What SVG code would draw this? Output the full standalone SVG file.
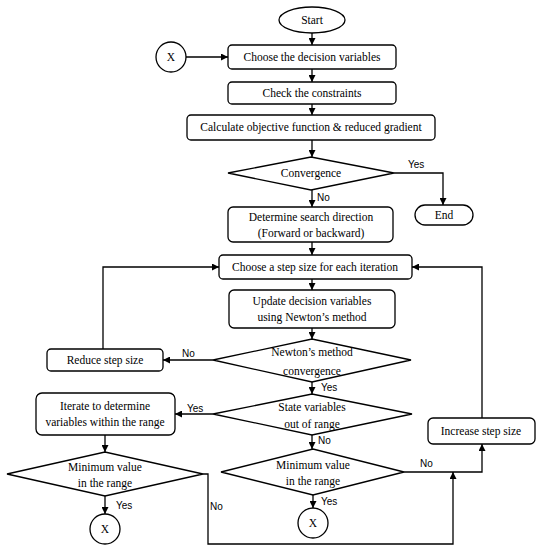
<svg xmlns="http://www.w3.org/2000/svg" width="541" height="550" viewBox="0 0 541 550">
<defs>
<marker id="ah" viewBox="0 0 10 10" refX="10" refY="5" markerWidth="7" markerHeight="7" markerUnits="userSpaceOnUse" orient="auto">
<path d="M0,0 L10,5 L0,10 z" fill="#000"/>
</marker>
<style>
.n{fill:#fff;stroke:#000;stroke-width:1.3}
.t{font-family:"Liberation Serif","DejaVu Serif",serif;font-size:11.5px;fill:#000;text-anchor:middle}
.l{font-family:"Liberation Sans","DejaVu Sans",sans-serif;font-size:10px;fill:#000}
.c{fill:none;stroke:#000;stroke-width:1.3;marker-end:url(#ah)}
</style>
</defs>
<rect width="541" height="550" fill="#fff"/>
<g id="connectors">
<path class="c" d="M312,33 V45"/>
<path class="c" d="M186,57 H228"/>
<path class="c" d="M312,69 V82"/>
<path class="c" d="M312,104 V115"/>
<path class="c" d="M312,140 V157"/>
<path class="c" d="M394,173 H443 V205"/>
<path class="c" d="M312,190 V207"/>
<path class="c" d="M312,242 V255"/>
<path class="c" d="M312,279 V290"/>
<path class="c" d="M312,328 V339"/>
<path class="c" d="M213,360 H163"/>
<path class="c" d="M103,349 V267 H219"/>
<path class="c" d="M312,382 V394"/>
<path class="c" d="M213,414 H175"/>
<path class="c" d="M312,435 V449"/>
<path class="c" d="M105,435 V452"/>
<path class="c" d="M105,496 V514"/>
<path class="c" d="M313,495 V508"/>
<path class="c" d="M404,472 H482 V444"/>
<path class="c" d="M482,418 V267 H412"/>
<path class="c" d="M203,474 H208 V544 H453 V472"/>
<text class="l" x="408" y="168">Yes</text>
<text class="l" x="317" y="201">No</text>
<text class="l" x="182" y="357">No</text>
<text class="l" x="321" y="391">Yes</text>
<text class="l" x="187" y="412">Yes</text>
<text class="l" x="318" y="444">No</text>
<text class="l" x="116" y="509">Yes</text>
<text class="l" x="321" y="505">Yes</text>
<text class="l" x="210" y="510">No</text>
<text class="l" x="420" y="467">No</text>
</g>
<g id="start"><ellipse class="n" cx="312" cy="20" rx="33" ry="13"/><text class="t" x="312" y="24">Start</text></g>
<g id="x-top"><circle class="n" cx="171" cy="57" r="15"/><text class="t" x="171" y="61">X</text></g>
<g id="choose-vars"><rect class="n" x="228" y="45" width="168" height="24" rx="4"/><text class="t" x="312" y="61">Choose the decision variables</text></g>
<g id="check"><rect class="n" x="228" y="82" width="168" height="22" rx="4"/><text class="t" x="312" y="97">Check the constraints</text></g>
<g id="calc"><rect class="n" x="187" y="115" width="248" height="25" rx="4"/><text class="t" x="311" y="131">Calculate objective function &amp; reduced gradient</text></g>
<g id="convergence"><polygon class="n" points="228,173 311,157 394,173 311,190"/><text class="t" x="311" y="177">Convergence</text></g>
<g id="end"><rect class="n" x="415" y="205" width="58" height="20" rx="10"/><text class="t" x="444" y="219">End</text></g>
<g id="direction"><rect class="n" x="228" y="207" width="165" height="35" rx="5"/><text class="t" x="311" y="221">Determine search direction</text><text class="t" x="311" y="237">(Forward or backward)</text></g>
<g id="step"><rect class="n" x="219" y="255" width="193" height="24" rx="4"/><text class="t" x="315" y="271">Choose a step size for each iteration</text></g>
<g id="update"><rect class="n" x="229" y="290" width="166" height="38" rx="5"/><text class="t" x="312" y="305">Update decision variables</text><text class="t" x="312" y="321">using Newton’s method</text></g>
<g id="newton"><polygon class="n" points="213,360 312,339 411,360 312,382"/><text class="t" x="312" y="356">Newton’s method</text><text class="t" x="312" y="375">convergence</text></g>
<g id="reduce"><rect class="n" x="47" y="349" width="116" height="22" rx="4"/><text class="t" x="105" y="364">Reduce step size</text></g>
<g id="state"><polygon class="n" points="213,414 312,394 412,414 312,435"/><text class="t" x="312" y="411">State variables</text><text class="t" x="312" y="428">out of range</text></g>
<g id="iterate"><rect class="n" x="36" y="393" width="139" height="42" rx="6"/><text class="t" x="105" y="410">Iterate to determine</text><text class="t" x="105" y="426">variables within the range</text></g>
<g id="min-left"><polygon class="n" points="7,474 105,452 203,474 105,496"/><text class="t" x="105" y="471">Minimum value</text><text class="t" x="105" y="487">in the range</text></g>
<g id="x-left"><circle class="n" cx="105" cy="529" r="15"/><text class="t" x="105" y="533">X</text></g>
<g id="min-mid"><polygon class="n" points="221,472 313,449 404,472 313,495"/><text class="t" x="313" y="469">Minimum value</text><text class="t" x="313" y="485">in the range</text></g>
<g id="x-mid"><circle class="n" cx="313" cy="523" r="15"/><text class="t" x="313" y="527">X</text></g>
<g id="increase"><rect class="n" x="428" y="418" width="107" height="26" rx="5"/><text class="t" x="481" y="435">Increase step size</text></g>
</svg>
